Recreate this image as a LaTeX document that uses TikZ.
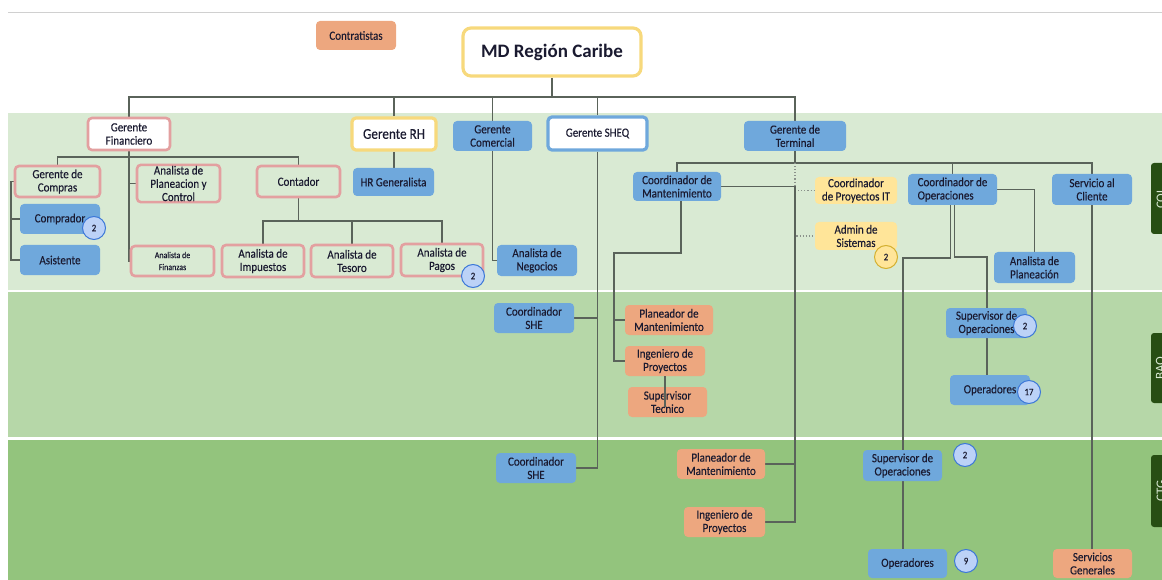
\documentclass[tikz,border=0pt]{standalone}
\usepackage{fontspec}
\setmainfont{Carlito}
\newfontfamily\nodefont[FakeStretch=0.88,FakeBold=0.25]{Carlito}
\usetikzlibrary{calc}
\pgfdeclarelayer{back}
\pgfdeclarelayer{lines}
\pgfsetlayers{back,lines,main}
\definecolor{bandA}{HTML}{D9EAD3}
\definecolor{bandB}{HTML}{B6D7A8}
\definecolor{bandC}{HTML}{93C47D}
\definecolor{tabg}{HTML}{274E13}
\definecolor{bluef}{HTML}{6FA8DC}
\definecolor{orf}{HTML}{EDA77F}
\definecolor{ylf}{HTML}{FFE599}
\definecolor{pinkb}{HTML}{E3A0A0}
\definecolor{mdy}{HTML}{F7D97C}
\definecolor{lineg}{HTML}{5A635A}
\definecolor{txt}{HTML}{1A1A30}
\definecolor{badgef}{HTML}{BCD2F7}
\definecolor{badgeb}{HTML}{3C78D8}
\definecolor{badgeyb}{HTML}{D4B030}
\definecolor{topl}{HTML}{D0D0D0}
\tikzset{
  basebox/.style={rounded corners=4pt, inner sep=1pt, align=center, text=txt,
    font=\nodefont\fontsize{12.5}{13.3}\selectfont},
  bluebox/.style={basebox, fill=bluef},
  orbox/.style={basebox, fill=orf},
  ylbox/.style={basebox, fill=ylf},
  pinkbox/.style={basebox, draw=pinkb, line width=2.6pt},
  pinkwbox/.style={basebox, draw=pinkb, fill=white, line width=2.6pt},
  yellwbox/.style={basebox, draw=mdy, fill=white, line width=3.2pt},
  bluewbox/.style={basebox, draw=bluef, fill=white, line width=3.2pt},
  badge/.style={circle, draw=badgeb, fill=badgef, line width=1pt, minimum size=23pt,
    inner sep=0pt, text=txt, font=\nodefont\fontsize{10}{10}\selectfont},
  ybadge/.style={badge, draw=badgeyb, fill=ylf},
  conn/.style={draw=lineg, line width=1.3pt},
  dotconn/.style={draw=lineg!70, line width=1.1pt, dotted},
  tabtxt/.style={text=bandA, font=\fontsize{13}{13}\selectfont, inner sep=0pt}
}
\begin{document}
\begin{tikzpicture}[x=1pt,y=-1pt]
\useasboundingbox (0,0) rectangle (1162,580);
\begin{pgfonlayer}{back}
\fill[bandA] (8,113) rectangle (1162,290);
\fill[bandB] (8,292) rectangle (1162,437);
\fill[bandC] (8,440) rectangle (1162,580);
\draw[topl, line width=1pt] (8,13) -- (1162,13);
\begin{scope}
\clip (0,0) rectangle (1162,580);
\fill[tabg, rounded corners=3pt] (1151,163) rectangle (1180,234);
\fill[tabg, rounded corners=3pt] (1151,333) rectangle (1180,403);
\fill[tabg, rounded corners=3pt] (1151,455) rectangle (1180,527);
\node[tabtxt, rotate=90] (tcol) at (1161,198.5) {COL};
\node[tabtxt, rotate=90] (tbaq) at (1161,368) {BAQ};
\node[tabtxt, rotate=90] (tctg) at (1161,491) {CTG};
\end{scope}
\end{pgfonlayer}

% top level
\node[yellwbox, rounded corners=8pt, minimum width=178pt, minimum height=48pt,
  font=\fontsize{19}{22}\selectfont\bfseries] (md) at (552,52) {MD Región Caribe};
\node[orbox, minimum width=80pt, minimum height=29pt] (contr) at (356,35.5) {Contratistas};
\node[pinkwbox, minimum width=82pt, minimum height=32pt] (gfin) at (129,134) {Gerente\\Financiero};
\node[yellwbox, minimum width=84pt, minimum height=32pt, font=\nodefont\fontsize{15}{17}\selectfont] (grh) at (394,134) {Gerente RH};
\node[bluebox, minimum width=79pt, minimum height=30pt] (gcom) at (492.5,136) {Gerente\\Comercial};
\node[bluewbox, minimum width=99pt, minimum height=33pt] (gsheq) at (597.5,133.5) {Gerente SHEQ};
\node[bluebox, minimum width=102pt, minimum height=30pt] (gterm) at (795,136) {Gerente de\\Terminal};

% finance
\node[pinkbox, minimum width=85pt, minimum height=31pt] (gcomp) at (57.5,181.5) {Gerente de\\Compras};
\node[bluebox, minimum width=80pt, minimum height=30pt] (compr) at (60,219) {Comprador};
\node[bluebox, minimum width=80pt, minimum height=30pt] (asist) at (60,260) {Asistente};
\node[pinkbox, minimum width=83pt, minimum height=32pt] (apc) at (178.5,183.5) {Analista de\\Planeacion y\\Control};
\node[pinkbox, minimum width=83pt, minimum height=31pt] (cont) at (298.5,181.5) {Contador};
\node[bluebox, minimum width=81pt, minimum height=28pt] (hrg) at (393.5,182) {HR Generalista};
\node[pinkbox, minimum width=83pt, minimum height=30pt, font=\nodefont\fontsize{9}{12}\selectfont] (afin) at (172.5,261) {Analista de\\Finanzas};
\node[pinkbox, minimum width=82pt, minimum height=32pt] (aimp) at (263,261) {Analista de\\Impuestos};
\node[pinkbox, minimum width=82pt, minimum height=32pt] (ates) at (352,261) {Analista de\\Tesoro};
\node[pinkbox, minimum width=82pt, minimum height=32pt] (apag) at (442,260) {Analista de\\Pagos};
\node[bluebox, minimum width=80pt, minimum height=31pt] (aneg) at (537,260.5) {Analista de\\Negocios};

% terminal
\node[bluebox, minimum width=88pt, minimum height=29pt] (cman) at (677,186.5) {Coordinador de\\Mantenimiento};
\node[ylbox, minimum width=82pt, minimum height=27pt] (cpit) at (856,190.5) {Coordinador\\de Proyectos IT};
\node[ylbox, minimum width=82pt, minimum height=28pt] (adms) at (856,236) {Admin de\\Sistemas};
\node[bluebox, align=left, minimum width=89pt, minimum height=31pt] (cops) at (952.5,189.5) {Coordinador de\\Operaciones};
\node[bluebox, minimum width=80pt, minimum height=31pt] (scli) at (1092,189.5) {Servicio al\\Cliente};
\node[bluebox, minimum width=81pt, minimum height=31pt] (apla) at (1034.5,267.5) {Analista de\\Planeación};

% BAQ
\node[bluebox, minimum width=80pt, minimum height=30pt] (cshe1) at (534,318) {Coordinador\\SHE};
\node[orbox, minimum width=88pt, minimum height=30pt] (pman1) at (669,320) {Planeador de\\Mantenimiento};
\node[orbox, minimum width=80pt, minimum height=30pt] (ingp1) at (665,361) {Ingeniero de\\Proyectos};
\node[orbox, minimum width=79pt, minimum height=30pt] (stec) at (667.5,402) {Supervisor\\Tecnico};
\node[bluebox, minimum width=81pt, minimum height=30pt] (sops1) at (986.5,323) {Supervisor de\\Operaciones};
\node[bluebox, minimum width=80pt, minimum height=30pt] (oper1) at (990,390) {Operadores};

% CTG
\node[bluebox, minimum width=80pt, minimum height=30pt] (cshe2) at (536,468) {Coordinador\\SHE};
\node[orbox, minimum width=88pt, minimum height=30pt] (pman2) at (721,464) {Planeador de\\Mantenimiento};
\node[orbox, minimum width=81pt, minimum height=30pt] (ingp2) at (724.5,522) {Ingeniero de\\Proyectos};
\node[bluebox, minimum width=79pt, minimum height=31pt] (sops2) at (902.5,465.5) {Supervisor de\\Operaciones};
\node[bluebox, minimum width=79pt, minimum height=29pt] (oper2) at (907.5,563.5) {Operadores};
\node[orbox, minimum width=79pt, minimum height=29pt] (sgen) at (1092.5,563.5) {Servicios\\Generales};

% badges
\node[badge] (bd1) at (94,228) {2};
\node[badge] (bd2) at (473,276) {2};
\node[ybadge] (bd3) at (886,257) {2};
\node[badge] (bd4) at (1025,326) {2};
\node[badge] (bd5) at (1029,392) {17};
\node[badge] (bd6) at (965,455) {2};
\node[badge] (bd7) at (966,561) {9};

% connector drawn over Supervisor Tecnico
\draw[conn] (ingp1.south) -- ([yshift=-5pt]ingp1.south |- stec.center);

\begin{pgfonlayer}{lines}
\coordinate (busA) at (0,97);
\draw[conn] (md.south) -- (md.south |- busA);
\draw[conn] (gfin.north) -- (gfin.north |- busA) -| (gterm.north);
\draw[conn] (grh.north) -- (grh.north |- busA);
\draw[conn] (gcom.north) -- (gcom.north |- busA);
\draw[conn] (gsheq.north) -- (gsheq.north |- busA);
% finance
\coordinate (busF) at (0,157);
\draw[conn] (gcomp.north) -- (gcomp.north |- busF) -| (cont.north);
\draw[conn] (gfin.south) |- (afin.west);
\draw[conn] (apc.west -| gfin.south) -- (apc.west);
\coordinate (brk) at (11,0);
\draw[conn] (gcomp.west) -- (gcomp.west -| brk) |- (asist.west);
\draw[conn] (compr.west) -- (compr.west -| brk);
\coordinate (busC) at (0,221);
\draw[conn] (cont.south) -- (cont.south |- busC);
\draw[conn] (aimp.north) -- (aimp.north |- busC) -| (apag.north);
\draw[conn] (ates.north) -- (ates.north |- busC);
\draw[conn] (grh.south) -- (grh.south |- hrg.north);
\draw[conn] (gcom.south) |- (aneg.west);
% SHEQ
\draw[conn] (gsheq.south) |- (cshe2.east);
\draw[conn] (cshe1.east) -- (cshe1.east -| gsheq.south);
% terminal
\coordinate (busT) at (0,163);
\draw[conn] (gterm.south) -- (gterm.south |- busT);
\draw[conn] (cman.north) -- (cman.north |- busT) -| (scli.north);
\draw[conn] (cops.north) -- (cops.north |- busT);
\draw[dotconn] (gterm.south |- busT) -- (gterm.south |- adms.west) -- (adms.west);
\draw[dotconn] (gterm.south |- cpit.west) -- (cpit.west);
\coordinate (mx) at (795,0);
\draw[conn] (cman.east) -- (cman.east -| mx) |- (ingp2.east);
\draw[conn] (pman2.east) -- (pman2.east -| mx);
\coordinate (mb) at (614,253);
\draw[conn] ([xshift=4pt]cman.south) |- (mb) |- (ingp1.west);
\draw[conn] (pman1.west) -- (pman1.west -| mb);
% operations
\coordinate (o1) at (903,258);
\coordinate (o2) at (987,257);
\draw[conn] ([xshift=-2pt]cops.south) |- (o1) -- (o1 |- oper2.north);
\draw[conn] ([xshift=2pt]cops.south) |- (o2) -- (o2 |- sops1.north);
\draw[conn] (sops1.south -| o2) -- (o2 |- oper1.north);
\draw[conn] (cops.east) -| (apla.north);
\draw[conn] (scli.south) -- (scli.south |- sgen.north);
\end{pgfonlayer}
\end{tikzpicture}
\end{document}
